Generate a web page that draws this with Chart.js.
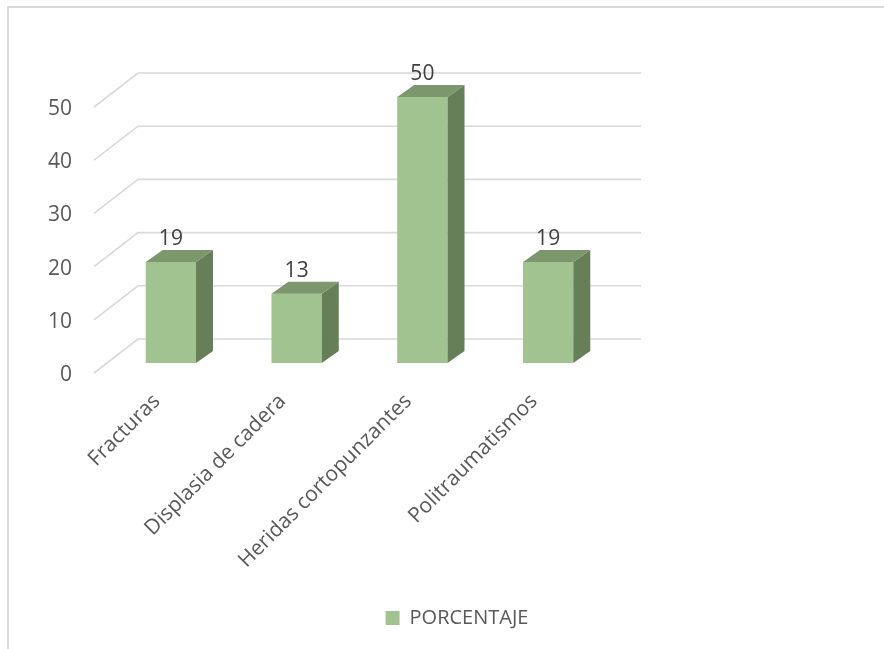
<!DOCTYPE html>
<html>
<head>
<meta charset="utf-8">
<script src="https://cdn.jsdelivr.net/npm/chart.js@4/dist/chart.umd.min.js"></script>
<style>
  html, body { margin: 0; padding: 0; background: #fff; }
  canvas { display: block; }
</style>
</head>
<body>
<canvas id="c" width="884" height="649"></canvas>
<script>
// Data
const categories = ['Fracturas', 'Displasia de cadera', 'Heridas cortopunzantes', 'Politraumatismos'];
const porcentaje = [19, 13, 50, 19];
const yTicks = [0, 10, 20, 30, 40, 50];
const seriesName = 'PORCENTAJE';

// Styling
const FRONT = '#A0C38F';
const TOP = '#7B976B';
const SIDE = '#667F59';
const GRID = '#D9D9D9';
const FONT = 'Open Sans';
const BAR_DEPTH = { dx: 17, dy: -12 };
const WALL_BACK = { dx: 30, dy: -24 };
const WALL_FRONT = { dx: -14, dy: 10 };

// White background and the frame edges
const frame = {
  id: 'frame',
  beforeDraw(chart) {
    const ctx = chart.ctx;
    ctx.save();
    ctx.fillStyle = '#fff';
    ctx.fillRect(0, 0, chart.width, chart.height);
    ctx.strokeStyle = GRID;
    ctx.lineWidth = 2;
    ctx.beginPath();
    ctx.moveTo(8, chart.height);
    ctx.lineTo(8, 7);
    ctx.lineTo(chart.width, 7);
    ctx.stroke();
    ctx.restore();
  }
};

// Back wall gridlines with their slanted side-wall segments
const walls = {
  id: 'walls',
  beforeDatasetsDraw(chart) {
    const ctx = chart.ctx;
    const y = chart.scales.y;
    const { left, right } = chart.chartArea;
    ctx.save();
    ctx.strokeStyle = GRID;
    ctx.lineWidth = 1.6;
    yTicks.forEach(v => {
      const p = y.getPixelForValue(v);
      ctx.beginPath();
      ctx.moveTo(left + WALL_FRONT.dx, p + WALL_FRONT.dy);
      ctx.lineTo(left + WALL_BACK.dx, p + WALL_BACK.dy);
      ctx.lineTo(right + WALL_BACK.dx, p + WALL_BACK.dy);
      ctx.stroke();
    });
    ctx.restore();
  }
};

// Side and top faces of each bar, plus value labels
const prism = {
  id: 'prism',
  afterDatasetsDraw(chart) {
    const ctx = chart.ctx;
    const meta = chart.getDatasetMeta(0);
    const { dx, dy } = BAR_DEPTH;
    ctx.save();
    meta.data.forEach((bar, i) => {
      const { x, y, base, width } = bar.getProps(['x', 'y', 'base', 'width'], true);
      const l = x - width / 2, r = x + width / 2;
      ctx.fillStyle = SIDE;
      ctx.beginPath();
      ctx.moveTo(r, y);
      ctx.lineTo(r + dx, y + dy);
      ctx.lineTo(r + dx, base + dy);
      ctx.lineTo(r, base);
      ctx.closePath();
      ctx.fill();
      ctx.fillStyle = TOP;
      ctx.beginPath();
      ctx.moveTo(l, y);
      ctx.lineTo(l + dx, y + dy);
      ctx.lineTo(r + dx, y + dy);
      ctx.lineTo(r, y);
      ctx.closePath();
      ctx.fill();
      ctx.fillStyle = '#404040';
      ctx.font = '21px "' + FONT + '"';
      ctx.textAlign = 'center';
      ctx.textBaseline = 'alphabetic';
      ctx.fillText(String(porcentaje[i]), x, y - 17);
    });
    ctx.restore();
  }
};

new Chart(document.getElementById('c'), {
  type: 'bar',
  data: {
    labels: categories,
    datasets: [{
      label: seriesName,
      data: porcentaje,
      backgroundColor: FRONT,
      borderWidth: 0,
      barPercentage: 0.4,
      categoryPercentage: 1
    }]
  },
  options: {
    responsive: false,
    animation: false,
    devicePixelRatio: 1,
    layout: { padding: { left: 30, right: 0, top: 97, bottom: 11 } },
    plugins: {
      tooltip: { enabled: false },
      legend: {
        position: 'bottom',
        labels: {
          boxWidth: 14,
          boxHeight: 14,
          padding: 10,
          color: '#595959',
          font: { family: FONT, size: 20 }
        }
      }
    },
    scales: {
      x: {
        grid: { display: false, drawTicks: false },
        border: { display: false },
        ticks: {
          color: '#595959',
          font: { family: FONT, size: 21 },
          minRotation: 45,
          maxRotation: 45,
          autoSkip: false,
          padding: 26,
          labelOffset: -14
        },
        afterFit(s) { s.height = 235; }
      },
      y: {
        min: 0,
        max: 50,
        grid: { display: false, drawTicks: false },
        border: { display: false },
        ticks: {
          color: '#595959',
          font: { family: FONT, size: 21 },
          padding: 36,
          labelOffset: 12
        },
        afterBuildTicks(s) { s.ticks = yTicks.map(v => ({ value: v })); },
        afterFit(s) { s.width = 78; }
      },
      y2: {
        position: 'right',
        grid: { display: false, drawTicks: false },
        border: { display: false },
        ticks: { display: false },
        afterFit(s) { s.width = 273; }
      }
    }
  },
  plugins: [frame, walls, prism]
});
</script>
</body>
</html>
